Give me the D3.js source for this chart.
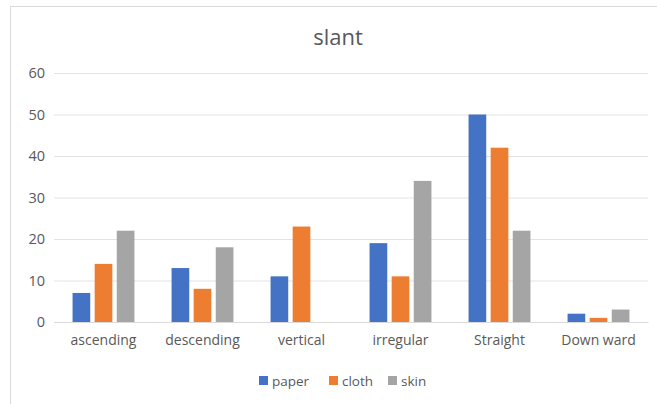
<!DOCTYPE html>
<html>
<head>
<meta charset="utf-8">
<script src="https://cdn.jsdelivr.net/npm/d3@7"></script>
<style>
  html, body { margin: 0; padding: 0; background: #fff; }
  svg { display: block; font-family: "Open Sans", "Liberation Sans", sans-serif; }
</style>
</head>
<body>
<svg id="chart" width="657" height="404"></svg>
<script>
// Chart data
const categories = ["ascending", "descending", "vertical", "irregular", "Straight", "Down ward"];
const seriesNames = ["paper", "cloth", "skin"];
const paper = [7, 13, 11, 19, 50, 2];
const cloth = [14, 8, 23, 11, 42, 1];
const skin  = [22, 18, 0, 34, 22, 3];
const yTicks = [0, 10, 20, 30, 40, 50, 60];
const titleText = "slant";

const seriesValues = [paper, cloth, skin];
const colors = ["#4472C4", "#ED7D31", "#A5A5A5"];

const svg = d3.select("#chart");
const W = 657, H = 404;
const plot = { left: 54, right: 648, top: 73, bottom: 322 };

// Chart frame
svg.append("rect")
  .attr("x", 10.5).attr("y", 6.5)
  .attr("width", W + 20).attr("height", H + 20)
  .attr("fill", "#fff").attr("stroke", "#d9d9d9").attr("stroke-width", 1);

// Title
svg.append("text")
  .attr("x", 338).attr("y", 45)
  .attr("text-anchor", "middle")
  .attr("font-size", 22)
  .attr("fill", "#595959")
  .text(titleText);

// Scales
const x0 = d3.scaleBand().domain(categories)
  .range([plot.left, plot.right])
  .paddingInner(0.375).paddingOuter(0.1875);
const x1 = d3.scaleBand().domain(seriesNames)
  .range([0, x0.bandwidth()])
  .paddingInner(0.2);
const y = d3.scaleLinear().domain([0, 60]).range([plot.bottom, plot.top]);

// Gridlines and y labels
const yAxis = d3.axisLeft(y).tickValues(yTicks).tickSize(-(plot.right - plot.left)).tickPadding(9);
const gy = svg.append("g").attr("transform", `translate(${plot.left},0)`).call(yAxis);
gy.select(".domain").remove();
gy.selectAll(".tick line").attr("stroke", "#e3e3e3").attr("stroke-width", 1);
gy.selectAll(".tick text")
  .attr("fill", "#595959").attr("font-size", 14.5)
  .attr("font-family", "\"Open Sans\", \"Liberation Sans\", sans-serif");

// Bars
const groups = svg.append("g").selectAll("g")
  .data(categories)
  .join("g")
  .attr("transform", d => `translate(${x0(d)},0)`);

groups.selectAll("rect")
  .data((c, i) => seriesNames.map((s, k) => ({ s, k, v: seriesValues[k][i] })))
  .join("rect")
  .filter(d => d.v > 0)
  .attr("x", d => x1(d.s))
  .attr("y", d => y(d.v))
  .attr("width", x1.bandwidth())
  .attr("height", d => y(0) - y(d.v))
  .attr("fill", d => colors[d.k]);

// Category axis
const xAxis = d3.axisBottom(x0).tickSize(0).tickPadding(13);
const gx = svg.append("g").attr("transform", `translate(0,${plot.bottom})`).call(xAxis);
gx.select(".domain").attr("stroke", "#d9d9d9");
gx.selectAll(".tick text")
  .attr("fill", "#595959").attr("font-size", 14)
  .attr("font-family", "\"Open Sans\", \"Liberation Sans\", sans-serif");

// Legend
const legendX = [259, 329, 388];
const legend = svg.append("g").selectAll("g")
  .data(seriesNames)
  .join("g")
  .attr("transform", (d, i) => `translate(${legendX[i]},376)`);
legend.append("rect")
  .attr("width", 9).attr("height", 9)
  .attr("fill", (d, i) => colors[i]);
legend.append("text")
  .attr("x", 13).attr("y", 9.5)
  .attr("font-size", 13.5)
  .attr("fill", "#595959")
  .text(d => d);
</script>
</body>
</html>
